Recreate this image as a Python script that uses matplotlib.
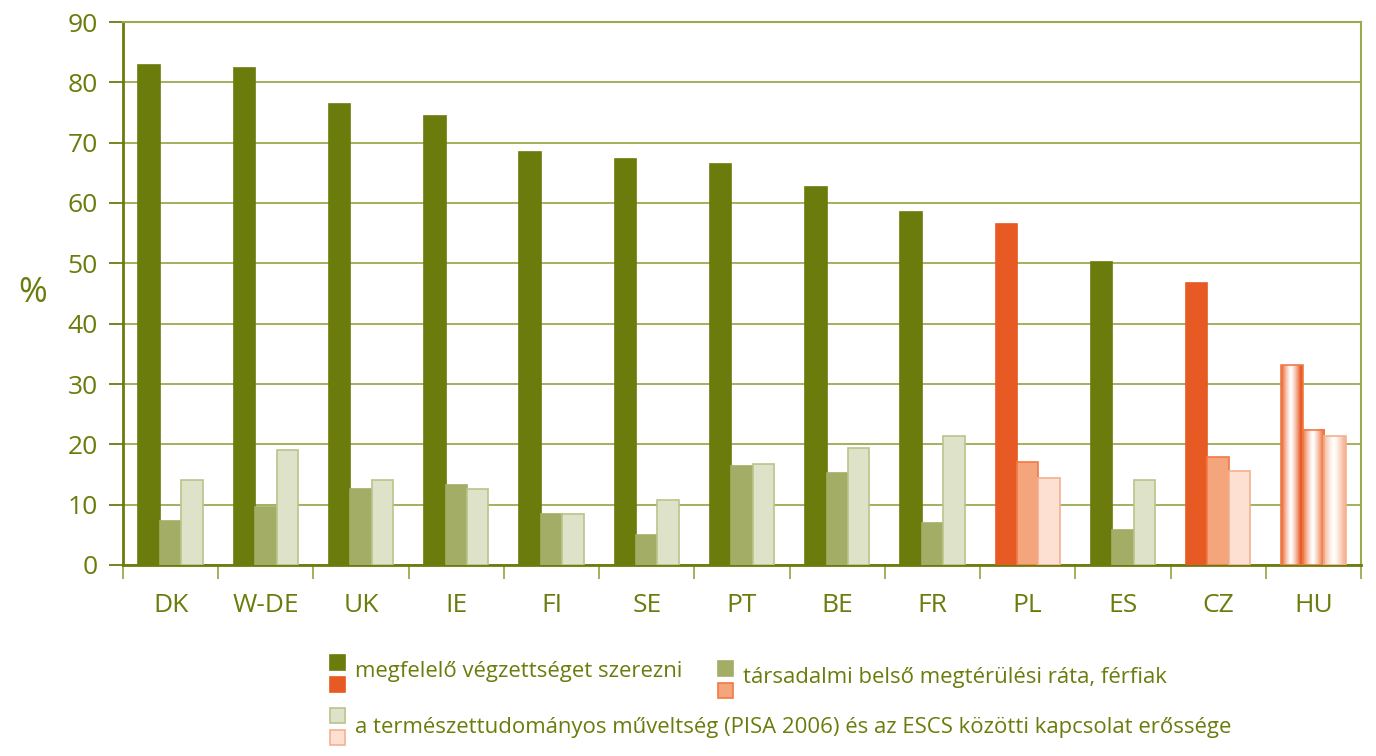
import numpy as np
import matplotlib
matplotlib.use("Agg")
import matplotlib.pyplot as plt
from matplotlib.patches import Rectangle
from matplotlib.colors import to_rgb

countries = ["DK", "W-DE", "UK", "IE", "FI", "SE", "PT", "BE", "FR", "PL", "ES", "CZ", "HU"]
vegzettseg = [82.8, 82.4, 76.4, 74.5, 68.4, 67.3, 66.5, 62.7, 58.5, 56.5, 50.2, 46.7, 33.1]
megterules = [7.3, 9.6, 12.6, 13.3, 8.4, 5.0, 16.4, 15.3, 7.0, 17.1, 5.8, 17.9, 22.4]
pisa_escs = [14.1, 19.0, 14.1, 12.6, 8.4, 10.7, 16.7, 19.4, 21.3, 14.5, 14.1, 15.6, 21.3]
highlight = ["PL", "CZ"]
gradient_country = "HU"
yticks = [0, 10, 20, 30, 40, 50, 60, 70, 80, 90]
legend_labels = ["megfelelő végzettséget szerezni",
                 "társadalmi belső megtérülési ráta, férfiak",
                 "a természettudományos műveltség (PISA 2006) és az ESCS közötti kapcsolat erőssége"]

OLIVE = "#6b7c0c"
GRID = "#9aab4e"
green_face = ["#6b7c0c", "#a3ad66", "#dde2c8"]
green_edge = ["#6b7c0c", "#a3ad66", "#b8c48a"]
orange_face = ["#e85a23", "#f4a57b", "#fde0d2"]
orange_edge = ["#e85a23", "#f07a45", "#f4b090"]

plt.rcParams['font.family'] = ['Open Sans', 'DejaVu Sans']

fig = plt.figure(figsize=(13.76, 7.56), dpi=100)
ax = fig.add_axes([123/1376, 1-565/756, (1361-123)/1376, (565-22)/756])

series = [vegzettseg, megterules, pisa_escs]
n = len(countries)
x = np.arange(n)
w = 0.225
offsets = [-w, 0, w]
grad_base = ["#e85a23", "#ef7a45", "#f7b89a"]

for si, vals in enumerate(series):
    for i, c in enumerate(countries):
        xc = x[i] + offsets[si]
        v = vals[i]
        if c == gradient_country:
            base = np.array(to_rgb(grad_base[si]))
            tt = np.linspace(0, 1, 200)
            prof = np.clip(np.abs(tt - 0.45) / 0.45, 0, 1) ** 1.3
            cols = np.ones((1, 200, 3)) * (1 - prof)[None, :, None] + base[None, None, :] * prof[None, :, None]
            ax.imshow(cols, extent=(xc - w/2, xc + w/2, 0, v), aspect='auto', zorder=3, interpolation='bilinear')
            ax.add_patch(Rectangle((xc - w/2, 0), w, v, facecolor='none',
                                   edgecolor=orange_edge[si] if si > 0 else "#f07a45", lw=1.2, zorder=4))
        else:
            if c in highlight:
                fc, ec = orange_face[si], orange_edge[si]
            else:
                fc, ec = green_face[si], green_edge[si]
            ax.bar(xc, v, width=w, color=fc, edgecolor=ec, linewidth=1.2, zorder=3)

ax.set_xlim(-0.5, n - 0.5)
ax.set_ylim(0, 90)
ax.set_yticks(yticks)
ax.yaxis.grid(True, color=GRID, lw=1.3, zorder=0)
ax.set_axisbelow(True)

ax.set_xticks(np.arange(n + 1) - 0.5, minor=False)
ax.set_xticklabels([])
ax.set_xticks(x, minor=True)
ax.set_xticklabels(countries, minor=True)
ax.tick_params(axis='x', which='major', length=10, width=1.3, color=GRID, direction='out')
ax.tick_params(axis='x', which='minor', length=0, pad=20, labelsize=19, labelcolor=OLIVE)
ax.tick_params(axis='y', length=10, width=1.3, color=OLIVE, labelsize=19, labelcolor=OLIVE, pad=8)

for s in ['left', 'bottom']:
    ax.spines[s].set_color(OLIVE)
    ax.spines[s].set_linewidth(2)
for s in ['top', 'right']:
    ax.spines[s].set_color(GRID)
    ax.spines[s].set_linewidth(1.5)

fig.text(33/1376, 1-293/756, "%", fontsize=25, color=OLIVE, ha='center', va='center')

def fig_rect(px, py, pw, ph, fc, ec):
    fig.patches.append(Rectangle((px/1376, 1-(py+ph)/756), pw/1376, ph/756,
                                 transform=fig.transFigure, facecolor=fc, edgecolor=ec, lw=1.2))

leg = [(330, 655, 0, legend_labels[0], 355, 672),
       (718, 661, 1, legend_labels[1], 743, 677),
       (330, 708, 2, legend_labels[2], 355, 728)]
for px, py, si, lab, tx, ty in leg:
    fig_rect(px, py, 15, 15, green_face[si], green_edge[si])
    fig_rect(px, py + 22, 15, 15, orange_face[si], orange_edge[si])
    fig.text(tx/1376, 1-ty/756, lab, fontsize=15.9, color=OLIVE, ha='left', va='center')

fig.savefig("out.png", dpi=100)
